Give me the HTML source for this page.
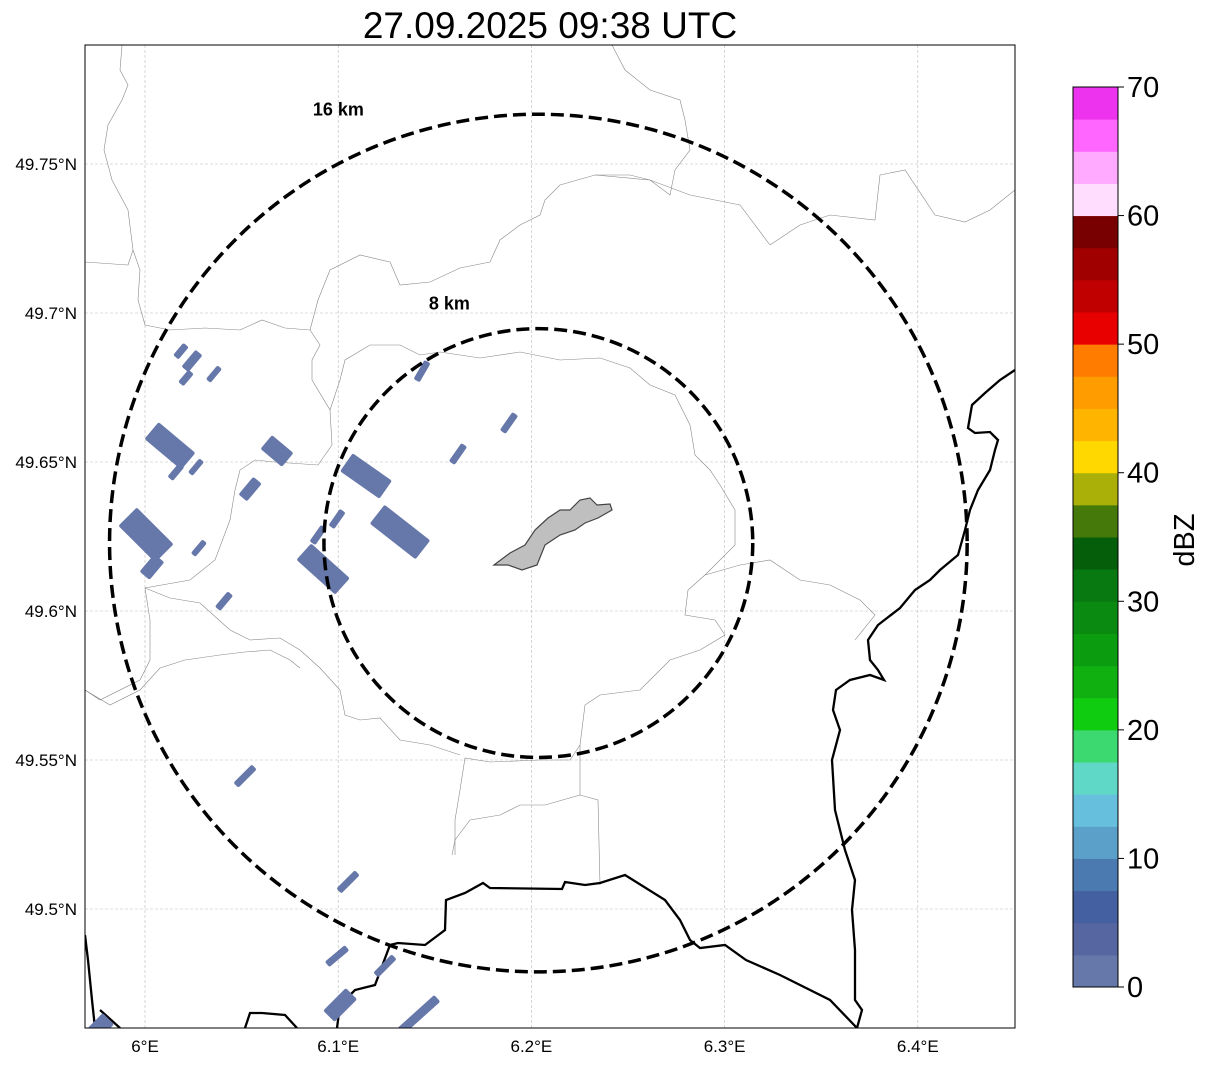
<!DOCTYPE html>
<html><head><meta charset="utf-8"><style>
body{margin:0;background:#fff;width:1207px;height:1064px;overflow:hidden;font-family:"Liberation Sans",sans-serif}
</style></head><body>
<svg id="s" width="1207" height="1064" xmlns="http://www.w3.org/2000/svg" font-family="Liberation Sans, sans-serif">
<defs><clipPath id="clip"><rect x="85" y="45" width="930" height="983"/></clipPath></defs>
<text x="550" y="38" font-size="37" text-anchor="middle">27.09.2025 09:38 UTC</text>
<g id="map" clip-path="url(#clip)"></g>
<rect x="85" y="45" width="930" height="983" fill="none" stroke="#000" stroke-width="1"/>
<g id="axes"></g>
<g id="cbar"></g>
<text transform="translate(1194,540) rotate(-90)" font-size="29" text-anchor="middle">dBZ</text>
</svg>
<script>
const lonTicks=[6.0,6.1,6.2,6.3,6.4];
const lonLabels=["6°E","6.1°E","6.2°E","6.3°E","6.4°E"];
const latTicks=[49.75,49.7,49.65,49.6,49.55,49.5];
const latLabels=["49.75°N","49.7°N","49.65°N","49.6°N","49.55°N","49.5°N"];
const ringKm=[16,8];
const radarLon=6.2036, radarLat=49.6228;
// echoes: lon, lat centre; length, width (px); angle
const echoLon=[6.0129,6.0160,6.0186,6.0243,6.0212,6.0357,6.0264,6.0683,6.0544,6.0005,6.0036,6.0279,6.0409,6.1144,6.1320,6.0922,6.0896,6.0994,6.1434,6.1620,6.1884,6.0518,6.1051,6.0994,6.1242,6.1010,6.1382,5.9752];
const echoLat=[49.6554,49.6467,49.6872,49.6839,49.6782,49.6795,49.6483,49.6537,49.6409,49.6255,49.6148,49.6211,49.6033,49.6453,49.6265,49.6141,49.6255,49.6309,49.6805,49.6527,49.6631,49.5446,49.5091,49.4842,49.4809,49.4678,49.4624,49.4594];
const echoLen=[48,18,16,22,16,18,18,28,23,52,23,18,20,48,58,52,20,20,22,22,22,26,26,26,26,32,68,32];
const echoWid=[22,7,7,9,7,6,6,18,11,26,13,6,7,22,24,22,7,7,7,7,7,7,7,7,7,16,9,16];
const echoAng=[40,-50,-50,-50,-50,-50,-50,40,-50,45,-50,-50,-50,35,38,42,-55,-55,-60,-55,-55,-45,-45,-40,-45,-45,-42,-45];
const cbColors=["#6677aa","#5566a0","#4560a0","#4a7ab0","#5aa0c8","#66c0dd","#60d8c8","#3cd870","#10cc10","#10b010","#0c9c10","#0a8a10","#087810","#055f0a","#457a0a","#aab008","#ffd800","#ffb400","#ff9c00","#ff7c00","#e80000","#c00000","#a00000","#780000","#ffddff","#ffaaff","#ff66ff","#ee33ee"];
const cbTicks=[0,10,20,30,40,50,60,70];

const NS="http://www.w3.org/2000/svg";
const xS=lon=>145+(lon-6)*1932;
const yS=lat=>164-(lat-49.75)*2980;
const cbY=v=>987-v/70*900;
function mk(t,a,p){const e=document.createElementNS(NS,t);for(const k in a)e.setAttribute(k,a[k]);p.appendChild(e);return e;}
const map=document.getElementById('map'),axes=document.getElementById('axes'),cb=document.getElementById('cbar');
lonTicks.forEach((v,i)=>{const x=xS(v);
 const g=mk('line',{x1:x,x2:x,y1:45,y2:1028,stroke:'#bbb','stroke-width':0.6,'stroke-dasharray':'3,2'},map);
 
 const t=mk('text',{x:x,y:1052,'font-size':17,'text-anchor':'middle'},axes);t.textContent=lonLabels[i];
 });
latTicks.forEach((v,i)=>{const y=yS(v);
 const g=mk('line',{x1:85,x2:1015,y1:y,y2:y,stroke:'#bbb','stroke-width':0.6,'stroke-dasharray':'3,2'},map);
 
 const t=mk('text',{x:77,y:y+6,'font-size':17,'text-anchor':'end'},axes);t.textContent=latLabels[i];
 });
const thin=[
"M122,45 L120,70 L128,85 L122,100 L108,125 L104,150 L112,180 L128,210 L133,250 L128,265 L85,262",
"M133,250 L140,270 L138,300 L145,325 L170,330 L205,328 L240,330 L262,320 L285,328 L310,330 L320,345 L312,360 L312,380 L330,410 L332,445 L318,465 L275,462 L255,460 L240,470 L235,490 L230,520 L215,560 L190,580 L145,588 L150,620 L150,660 L140,680 L100,700 L85,690",
"M330,410 L335,395 L340,380 L345,360 L370,345 L400,345 L420,355 L440,352 L480,358 L520,352 L560,360 L600,358 L630,368 L650,385 L675,395 L690,425 L695,455 L710,470 L720,485",
"M310,330 L318,300 L330,270 L360,255 L390,262 L400,285 L430,282 L460,268 L490,262 L500,240 L520,225 L540,215 L545,200 L560,185 L595,175 L630,175 L650,180 L670,195 L675,170 L690,150 L685,120 L680,100 L650,90 L625,70 L612,45",
"M595,175 L650,180 L690,195 L740,205 L770,245 L800,225 L830,215 L875,220 L880,175 L905,170 L935,215 L965,222 L990,210 L1015,190",
"M720,485 L735,510 L735,545 L720,560 L705,575 L688,590 L685,615 L715,620 L725,635 L700,650 L670,660 L650,680 L640,690 L600,695 L585,705 L580,745 L570,760 L540,760 L490,762 L465,758 L460,790 L455,820 L455,855",
"M705,575 L740,565 L770,560 L800,580 L830,585 L860,600 L875,615 L855,640",
"M580,745 L580,795 L545,805 L520,805 L500,815 L470,820 L455,840 L452,855",
"M580,795 L598,800 L600,885",
"M145,588 L170,598 L200,603 L230,630 L250,640 L280,638 L300,650 L320,668 L340,690 L345,715 L360,720 L380,718 L400,740 L430,745 L460,755",
"M85,690 L110,705 L140,690 L160,668 L185,660 L220,655 L245,652 L270,650 L290,660 L300,668"];
thin.forEach(d=>{const p=mk('path',{d:d,fill:'none',stroke:'#888','stroke-width':0.6},map);
 });
const thick=[
"M85,935 L88,960 L92,1000 L95,1028",
"M100,1010 L120,1028",
"M245,1028 L250,1013 L262,1013 L285,1015 L297,1028",
"M337,1028 L340,1005 L355,990 L375,985 L390,945 L398,943 L425,945 L445,930 L446,900 L465,893 L483,883 L490,888 L562,889 L565,882 L585,885 L600,883 L625,875 L665,900 L680,920 L690,940 L700,948 L725,945 L746,960 L780,975 L830,1000 L857,1028",
"M1015,370 L1000,380 L985,393 L972,405 L968,428 L975,433 L990,432 L998,440 L995,450 L990,470 L978,490 L970,510 L965,530 L958,555 L940,570 L930,580 L915,590 L900,608 L878,625 L868,640 L870,660 L878,670 L884,680 L870,675 L850,680 L836,690 L833,710 L840,730 L832,760 L835,810 L845,850 L855,880 L852,910 L855,950 L855,1000 L862,1010 L857,1028"];
thick.forEach(d=>{const p=mk('path',{d:d,fill:'none',stroke:'#000','stroke-width':2.3},map);
 });
for(let i=0;i<echoLon.length;i++){const x=xS(echoLon[i]),y=yS(echoLat[i]),L=echoLen[i],W=echoWid[i];
 const r=mk('rect',{x:x-L/2,y:y-W/2,width:L,height:W,rx:2,fill:'#6677aa',transform:`rotate(${echoAng[i]} ${x} ${y})`},map);
 }
const city=mk('path',{d:"M494,565 L510,553 L525,545 L535,530 L548,518 L560,510 L570,510 L580,500 L590,498 L597,505 L610,504 L612,510 L598,518 L585,523 L575,530 L560,535 L545,545 L537,565 L522,570 L508,565 Z",fill:'#bfbfbf',stroke:'#444','stroke-width':1.2},map);

const cx=xS(radarLon),cy=yS(radarLat);
ringKm.forEach(km=>{const rx=km*26.8,ry=km*26.8;
 const c=mk('ellipse',{cx:cx,cy:cy,rx:rx,ry:ry,fill:'none',stroke:'#000','stroke-width':3.5,'stroke-dasharray':'13,6'},map);
 
 const t=mk('text',{x:cx-(km===16?200:89),y:cy-ry+(km===16?1:-19),'font-size':18,'font-weight':'bold','text-anchor':'middle'},map);
 t.textContent=km+' km';});
cbColors.forEach((c,i)=>{const y0=cbY(i*2.5),y1=cbY((i+1)*2.5);
 const r=mk('rect',{x:1073,y:y1,width:45,height:y0-y1+0.5,fill:c},cb);
 });
mk('rect',{x:1073,y:87,width:45,height:900,fill:'none',stroke:'#000','stroke-width':1},cb);
cbTicks.forEach(v=>{const y=cbY(v);
 mk('line',{x1:1118,x2:1124,y1:y,y2:y,stroke:'#000'},cb);
 const t=mk('text',{x:1127,y:y+10,'font-size':29},cb);t.textContent=v;
 });
</script>
</body></html>
